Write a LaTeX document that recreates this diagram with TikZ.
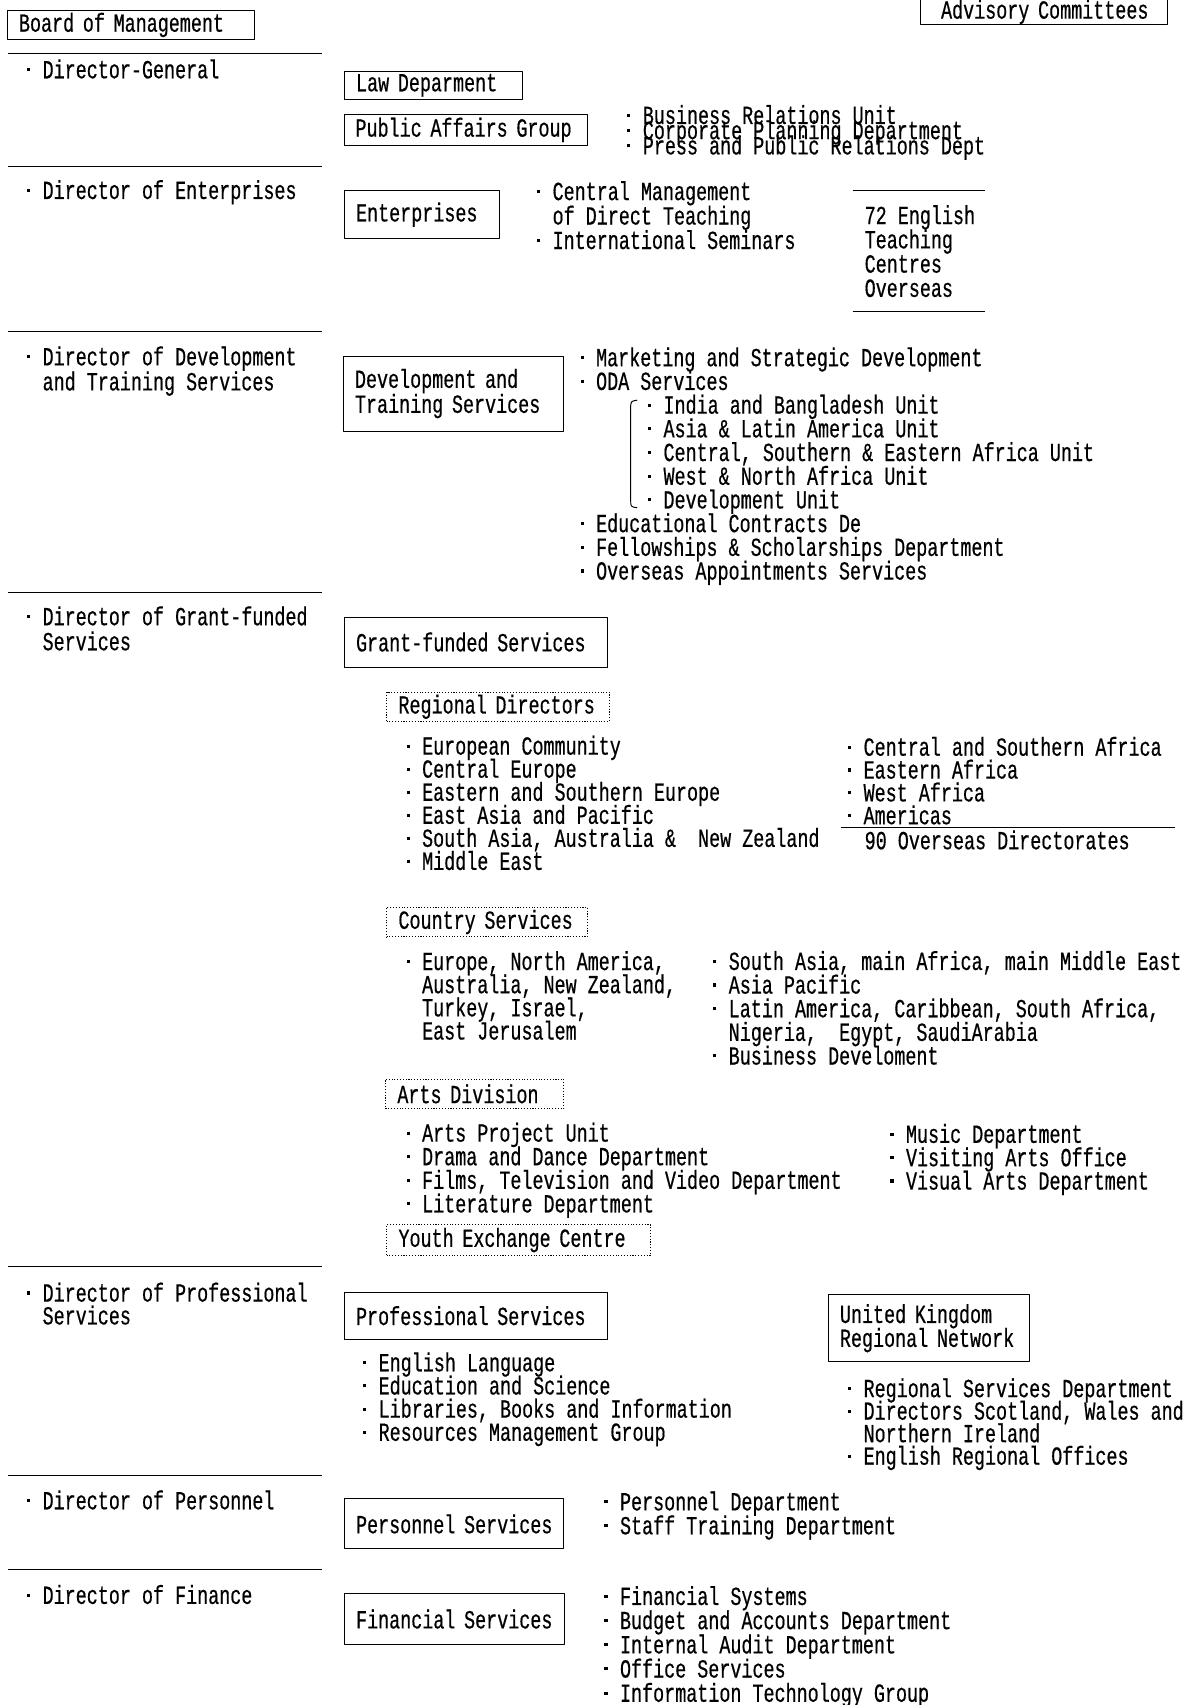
\documentclass[tikz,border=0pt]{standalone}
\usepackage{fontspec}
\newfontfamily\orgfam{Liberation Mono}[FakeStretch=0.705, FakeBold=0.5]
\newcommand\orgfont[1][21.5pt]{\orgfam\fontsize{24pt}{#1}\selectfont\lineskiplimit=-40pt}
\newcommand\bul{\makebox[20.3pt][l]{\hspace*{6pt}\raisebox{6.5pt}{\rule{2.8pt}{2.8pt}}}}
\newcommand\ind{\hspace*{20.3pt}}
\begin{document}
\begin{tikzpicture}[x=1pt,y=-1pt,line join=round,
		lab/.style={font=\orgfont, align=left, inner sep=0pt, anchor=base west},
		unit/.style={draw, line width=0.9pt, font=\orgfont, align=left, anchor=north west, inner xsep=11pt, inner ysep=0pt},
		region/.style={unit, dash pattern=on 1pt off 1.6pt},
		rule/.style={line width=0.9pt}]
		\fill[white] (0,0) rectangle (1101,1568);
		\useasboundingbox (0,0) rectangle (1101,1568);
		\foreach \y in {49,153,305,545,1165,1357,1443} \draw[rule] (7,\y) -- (296,\y);
		\node[unit, text width=206pt, minimum height=27pt] (board) at (6,9) {Board of Management};
		\node[unit, inner xsep=14pt, text width=199pt, minimum height=23pt] (advisory) at (846,-1) {\hspace*{5pt}Advisory Committees};
		\node[lab] (dg) at (18.7,72) {\bul Director-General};
		\node[lab] (de) at (18.7,183) {\bul Director of Enterprises};
		\node[lab, font={\orgfont[23pt]}] (dd) at (18.7,359) {\bul Director of Development\\\ind and Training Services};
		\node[lab, font={\orgfont[23pt]}] (dgf) at (18.7,598) {\bul Director of Grant-funded\\\ind Services};
		\node[lab, font={\orgfont[21pt]}] (dpf) at (18.7,1218) {\bul Director of Professional\\\ind Services};
		\node[lab] (dpe) at (18.7,1388) {\bul Director of Personnel};
		\node[lab] (dfi) at (18.7,1475) {\bul Director of Finance};
		
		\node[unit, text width=142pt, minimum height=26pt] (law) at (316,65) {Law Deparment};
		\node[unit, inner xsep=10.5pt, text width=203pt, minimum height=28pt] (pag) at (316,105) {Public Affairs Group};
		\node[lab, font={\orgfont[14pt]}] (pagl) at (570.7,142) {\bul Business Relations Unit\\\bul Corporate Planning Department\\\bul Press and Public Relations Dept};
		
		\node[unit, text width=121pt, minimum height=44pt] (ent) at (316,175) {Enterprises};
		\node[lab, font={\orgfont[22.5pt]}] (entl) at (487.7,229) {\bul Central Management\\\ind of Direct Teaching\\\bul International Seminars};
		\node[lab, font={\orgfont[22.3pt]}] (etc) at (795,273) {72 English\\Teaching\\Centres\\Overseas};
		\draw[rule] (784,175) -- (906,175);
		\draw[rule] (784,286) -- (906,286);
		
		\node[unit, font={\orgfont[23pt]}, text width=181pt, minimum height=69pt] (dts) at (315,327) {Development and\\Training Services};
		\node[lab, font={\orgfont[21.8pt]}] (dtsl) at (527.7,533) {\bul Marketing and Strategic Development\\\bul ODA Services\\
			\hspace*{62pt}\bul India and Bangladesh Unit\\\hspace*{62pt}\bul Asia \& Latin America Unit\\
			\hspace*{62pt}\bul Central, Southern \& Eastern Africa Unit\\\hspace*{62pt}\bul West \& North Africa Unit\\
			\hspace*{62pt}\bul Development Unit\\\bul Educational Contracts De\\
			\bul Fellowships \& Scholarships Department\\\bul Overseas Appointments Services};
		\draw[rule] (586,368) .. controls (580,369) .. (580,376) -- (580,460) .. controls (580,466) .. (586,467);
		
		\node[unit, text width=220pt, minimum height=46pt] (gfs) at (316,567) {Grant-funded Services};
		\node[region, text width=183pt, minimum height=27pt] (rdir) at (355,636) {Regional Directors};
		\node[lab, font={\orgfont[21.2pt]}] (rdl) at (367.7,800) {\bul European Community\\\bul Central Europe\\\bul Eastern and Southern Europe\\
			\bul East Asia and Pacific\\\bul South Asia, Australia \& \ New Zealand\\\bul Middle East};
		\node[lab, font={\orgfont[21pt]}] (rdr) at (773.7,758) {\bul Central and Southern Africa\\\bul Eastern Africa\\\bul West Africa\\\bul Americas};
		\draw[rule] (773,761) -- (1081,761);
		\node[lab] (ovd) at (795,781) {90 Overseas Directorates};
		
		\node[region, text width=163pt, minimum height=27pt] (csv) at (355,834) {Country Services};
		\node[lab, font={\orgfont[21.3pt]}] (csl) at (367.7,956) {\bul Europe, North America,\\\ind Australia, New Zealand,\\\ind Turkey, Israel,\\\ind East Jerusalem};
		\node[lab, font={\orgfont[21.75pt]}] (csr) at (649.7,979) {\bul South Asia, main Africa, main Middle East\\\bul Asia Pacific\\
			\bul Latin America, Caribbean, South Africa,\\\ind Nigeria, \ Egypt, SaudiArabia\\\bul Business Develoment};
		
		\node[region, text width=142pt, minimum height=27pt] (arts) at (354,992) {Arts Division};
		\node[lab, font={\orgfont[21.7pt]}] (adl) at (367.7,1115) {\bul Arts Project Unit\\\bul Drama and Dance Department\\
			\bul Films, Television and Video Department\\\bul Literature Department};
		\node[lab, font={\orgfont[21.5pt]}] (adr) at (812.7,1094) {\bul Music Department\\\bul Visiting Arts Office\\\bul Visual Arts Department};
		\node[region, text width=221pt, minimum height=28pt] (yec) at (355,1126) {Youth Exchange Centre};
		
		\node[unit, text width=220pt, minimum height=43pt] (pfs) at (316,1188) {Professional Services};
		\node[lab, font={\orgfont[21.3pt]}] (pfl) at (327.7,1325) {\bul English Language\\\bul Education and Science\\
			\bul Libraries, Books and Information\\\bul Resources Management Group};
		\node[unit, font={\orgfont[22pt]}, text width=163pt, minimum height=62pt] (ukrn) at (761,1190) {United Kingdom\\Regional Network};
		\node[lab, font={\orgfont[20.7pt]}] (ukl) at (773.7,1347) {\bul Regional Services Department\\\bul Directors Scotland, Wales and\\
			\ind Northern Ireland\\\bul English Regional Offices};
		
		\node[unit, inner xsep=8pt, text width=186pt, minimum height=46pt] (pers) at (316,1378) {\hspace*{3pt}Personnel Services};
		\node[lab, font={\orgfont[22pt]}] (psl) at (549.7,1411) {\bul Personnel Department\\\bul Staff Training Department};
		
		\node[unit, inner xsep=9pt, text width=185pt, minimum height=47pt] (fins) at (316,1465) {\hspace*{2pt}Financial Services};
		\node[lab, font={\orgfont[22.25pt]}] (fsl) at (549.7,1565) {\bul Financial Systems\\\bul Budget and Accounts Department\\
			\bul Internal Audit Department\\\bul Office Services\\\bul Information Technology Group};
\end{tikzpicture}
\end{document}
